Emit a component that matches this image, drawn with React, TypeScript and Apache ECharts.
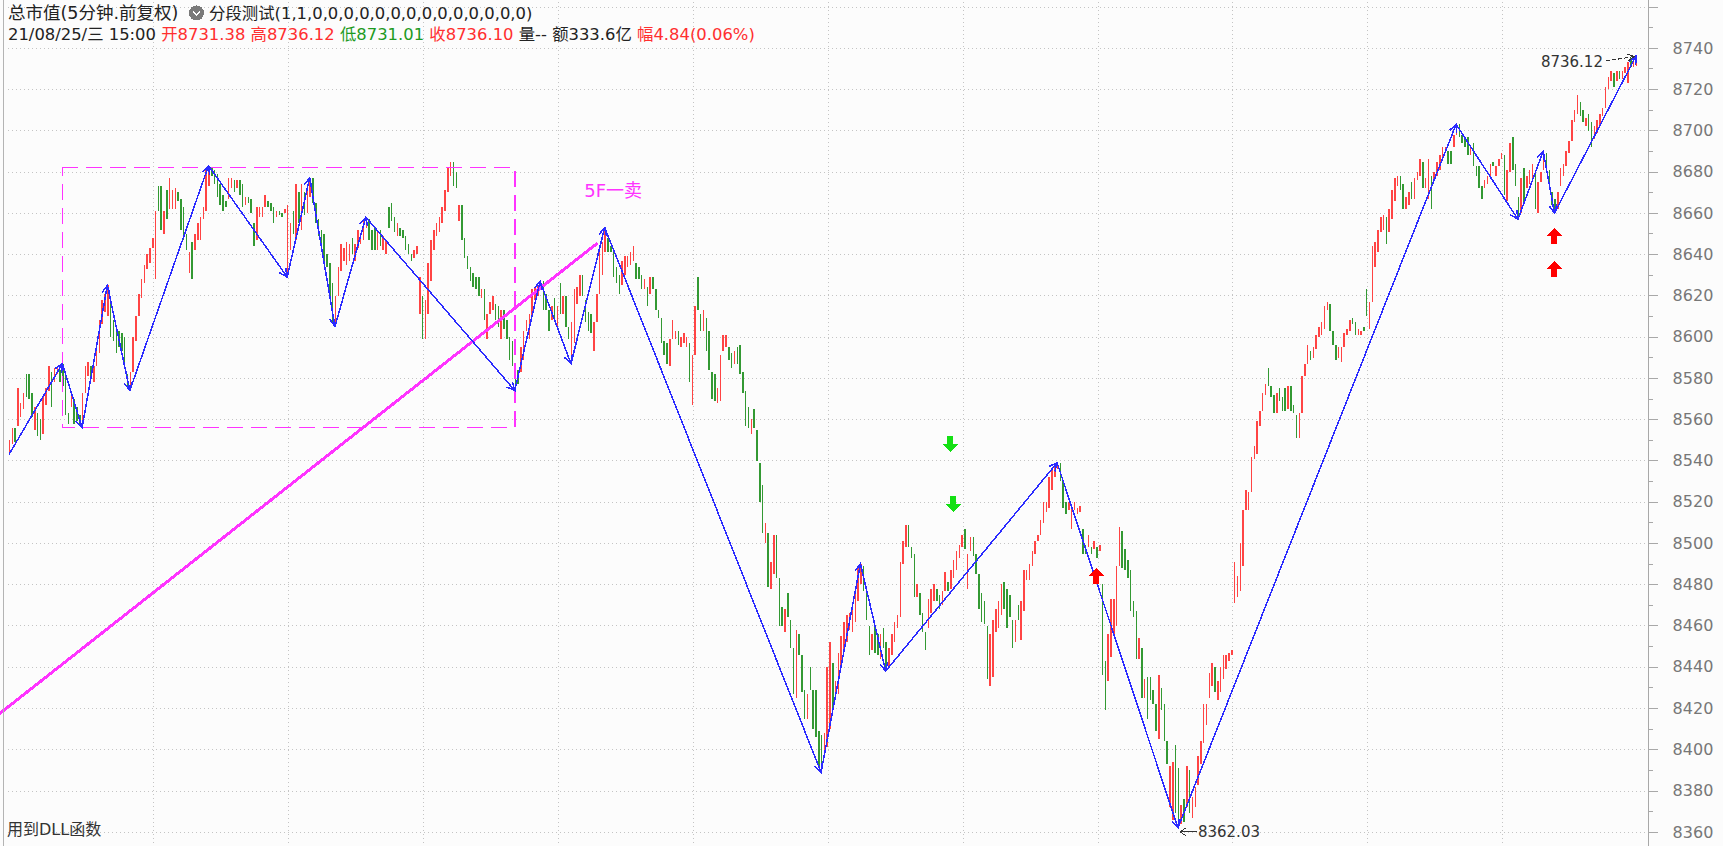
import React, { useEffect, useRef } from 'react';
import * as echarts from 'echarts';

// ---- bars: [open, close] per 5-minute bar ----
const barsBox: number[][] = [
  [8543,8550],[8548,8556],[8556,8549],[8557,8575],[8561,8568],[8565,8573],[8582,8571],[8582,8570],[8573,8561],[8555,8566],
  [8563,8552],[8560,8550],[8553,8571],[8567,8575],[8574,8586],[8583,8566],[8578,8585],[8582,8586],[8584,8578],[8587,8576],
  [8582,8562],[8563,8558],[8566,8573],[8570,8558],[8566,8559],[8562,8558],[8556,8573],[8573,8586],[8581,8588],[8586,8580],
  [8578,8586],[8586,8596],[8592,8608],[8606,8618],[8612,8621],[8610,8625],[8620,8600],[8608,8598],[8604,8592],[8603,8595],
  [8602,8593],[8600,8585],[8582,8576],[8574,8583],[8583,8600],[8598,8610],[8610,8621],[8619,8628],[8626,8635],[8633,8640],
  [8636,8643],[8643,8648],[8628,8661],[8673,8661],[8673,8652],[8650,8661],[8671,8657],[8662,8677],[8662,8671],[8662,8672],
  [8670,8666],[8667,8652],[8663,8647],[8650,8642],[8631,8641],[8646,8628],[8642,8650],[8647,8655],[8647,8658],[8657,8663],
  [8661,8681],[8673,8683],[8682,8678],[8681,8674],[8679,8668],[8674,8664],[8669,8661],[8666,8663],[8667,8677],[8672,8677],
  [8676,8670],[8672,8676],[8676,8669],[8674,8663],[8664,8668],[8668,8665],[8667,8660],[8655,8644],[8647,8663],[8658,8663],
  [8658,8663],[8663,8669],[8666,8663],[8665,8661],[8663,8655],[8658,8661],[8661,8659],[8660,8658],[8660,8662],[8629,8664],
  [8642,8655],[8661,8650],[8647,8674],[8670,8655],[8652,8674],[8670,8659],[8660,8672],[8668,8677],[8677,8665],[8665,8655],
  [8657,8649],[8652,8645],[8650,8636],[8640,8634],[8636,8620],[8626,8607],[8605,8620],[8620,8634],[8632,8645],[8637,8643],
  [8635,8646],[8637,8645],[8648,8640],[8637,8645],[8643,8652],[8645,8650],[8647,8656],[8653,8658],[8657,8647],[8652,8642],
  [8653,8642],[8642,8652],[8652,8644],[8642,8649],[8640,8647],[8663,8653],[8665,8656],[8658,8651],[8649,8655],[8653,8649],
  [8652,8648],[8649,8642],[8645,8640],[8640,8637],[8638,8642],[8640,8644],[8611,8629],[8620,8599],[8599,8618],[8611,8636],
  [8627,8647],[8642,8652],[8649,8655],[8651,8658],[8655,8663],[8661,8671],[8670,8682],[8678,8685],[8685,8673],[8680,8672],
  [8656,8664],[8664,8647],[8648,8638],[8639,8633],[8634,8627],[8631,8624],[8629,8623],[8629,8620],[8619,8623],[8623,8608],
  [8599,8611],[8611,8617],[8613,8620],[8616,8608],[8615,8605],[8599,8613],[8613,8604],[8608,8599],[8600,8589],[8598,8586],
  [8586,8574],
];
const barsFall: number[][] = [
  [8584,8577],[8583,8595],[8589,8603],[8603,8608],[8599,8611],[8610,8623],[8618,8624],[8620,8625],[8624,8627],[8627,8613],
  [8621,8613],[8613,8603],[8608,8615],[8619,8608],[8605,8615],[8626,8611],[8611,8620],[8620,8605],[8605,8599],[8587,8607],
  [8597,8623],[8616,8624],[8620,8630],[8630,8620],[8618,8607],[8612,8603],[8611,8602],[8593,8607],[8607,8621],[8621,8641],
  [8630,8646],[8641,8653],
  [8648,8641],[8644,8641],[8641,8629],[8634,8626],[8630,8621],[8625,8637],[8630,8639],[8634,8639],[8635,8641],[8637,8644],
  [8636,8628],[8634,8628],[8630,8623],[8623,8628],[8624,8615],[8621,8629],[8629,8623],[8623,8613],[8613,8609],[8609,8597],
  [8598,8591],[8597,8587],[8586,8599],[8599,8608],[8599,8603],[8603,8596],[8595,8600],[8597,8602],[8595,8600],[8597,8578],
  [8567,8591],[8591,8615],[8629,8613],[8611,8603],[8603,8613],[8609,8593],[8603,8584],[8583,8570],[8582,8569],[8568,8575],
  [8569,8591],[8593,8601],[8595,8601],[8595,8589],[8592,8585],[8587,8593],[8595,8587],[8596,8582],[8583,8573],[8574,8557],
  [8566,8556],[8553,8560],[8565,8556],[8555,8540],[8539,8520],[8528,8505],[8500,8510],[8505,8479],[8478,8491],[8485,8504],
  [8504,8483],[8483,8460],[8469,8460],[8457,8468],[8476,8464],[8463,8449],[8449,8427],[8425,8458],[8456,8446],[8446,8428],
  [8429,8415],[8415,8427],[8440,8429],[8429,8410],[8429,8406],[8409,8391],[8407,8389],
];
const barsMid: number[][] = [
  [8399,8408],[8401,8440],[8410,8452],[8442,8420],[8424,8433],[8427,8447],[8441,8455],[8448,8462],[8452,8465],[8458,8466],
  [8457,8470],[8462,8479],[8472,8488],[8480,8490],[8489,8477],[8478,8463],[8460,8446],[8448,8456],[8460,8447],[8456,8446],
  [8444,8456],[8459,8449],[8452,8438],
  [8440,8449],[8446,8456],[8452,8462],[8459,8465],[8464,8491],[8490,8501],[8498,8509],[8509,8498],[8498,8493],[8495,8474],
  [8474,8480],[8476,8465],[8466,8457],[8457,8448],[8459,8473],[8466,8478],[8472,8480],[8478,8472],[8475,8468],[8470,8477],
  [8477,8486],[8481,8477],[8478,8487],[8483,8492],[8487,8496],[8493,8499],[8498,8504],[8507,8497],[8478,8495],[8496,8503],
  [8503,8494],[8495,8485],[8485,8468],[8476,8462],[8472,8461],[8460,8434],[8431,8456],[8435,8463],[8457,8468],[8459,8472],
  [8465,8480],[8481,8468],[8478,8459],[8475,8464],[8463,8449],[8452,8463],[8470,8463],[8453,8472],[8467,8487],[8482,8487],
  [8482,8490],[8489,8496],[8495,8501],[8501,8504],[8504,8511],[8510,8520],[8515,8520],[8517,8532],[8526,8536],[8532,8538],
  [8536,8539],
  [8539,8530],[8530,8517],[8520,8514],[8516,8520],[8507,8519],[8516,8520],[8514,8517],[8515,8518],[8507,8495],[8499,8495],
  [8498,8504],[8498,8495],
  [8497,8501],[8498,8493],[8496,8499],[8480,8436],[8443,8419],[8433,8456],[8445,8473],[8456,8473],[8460,8489],[8489,8508],
  [8506,8488],[8497,8487],[8492,8483],[8487,8467],[8472,8464],[8467,8444],[8444,8454],[8449,8425],[8425,8434],[8435,8415],
  [8435,8424],[8429,8422],[8422,8409],[8405,8436],[8430,8419],[8422,8404],[8404,8393],[8372,8392],[8366,8394],[8402,8369],
  [8391,8362.03],
];
const barsRise: number[][] = [
  [8364,8373],[8376,8365],[8372,8392],[8390,8369],[8367,8377],[8372,8382],[8383,8397],[8393,8404],[8403,8422],[8412,8422],
  [8425,8437],[8431,8442],[8440,8428],[8424,8433],[8428,8440],[8434,8446],[8439,8446],[8443,8447],[8446,8448],[8471,8491],
  [8474,8484],[8477,8500],[8489,8516],[8516,8526],[8516,8525],
  [8525,8542],[8541,8547],[8543,8559],[8557,8564],[8564,8573],[8572,8577],[8585,8576],[8576,8571],[8572,8563],[8563,8573],
  [8575,8569],[8571,8564],[8575,8564],[8565,8576],[8576,8564],[8567,8563],[8562,8551],[8551,8563],[8563,8581],[8581,8587],
  [8587,8596],[8593,8589],[8590,8595],[8594,8601],[8600,8605],[8601,8607],[8604,8615],[8613,8617],[8616,8603],
  [8603,8596],[8596,8589],[8590,8595],[8588,8595],[8595,8602],[8601,8604],[8603,8608],[8609,8606],[8607,8601],[8601,8604],
  [8601,8603],[8605,8603],[8623,8610],[8604,8617],[8617,8644],[8634,8646],[8641,8652],[8651,8658],[8652,8659],[8658,8645],
  [8651,8662],[8657,8671],[8666,8677],[8673,8678],[8678,8671],[8674,8662],[8662,8668],[8664,8670],[8675,8667],[8667,8677],
  [8676,8680],[8678,8686],[8685,8672],[8672,8677],[8667,8686],[8678,8662],[8676,8680],[8678,8685],[8681,8688],[8686,8692],
  [8689,8692],[8690,8684],[8690,8684],[8692,8698],[8698,8703],
  [8703,8697],[8698,8694],[8697,8692],[8697,8688],[8688,8692],[8694,8683],[8683,8678],[8683,8672],[8673,8667],[8672,8676],
  [8674,8678],[8677,8684],[8685,8683],[8678,8683],[8683,8686],[8686,8689],
  [8688,8669],[8666,8681],[8680,8694],[8697,8681],[8684,8673],[8668,8657],
  [8660,8677],[8682,8665],[8672,8678],[8674,8681],[8677,8684],[8681,8662],[8660,8675],[8675,8680],[8681,8690],
  [8689,8681],[8681,8673],[8670,8664],[8667,8660],
  [8662,8670],[8673,8682],[8678,8684],[8683,8690],[8689,8695],[8695,8705],[8704,8710],[8708,8717],[8714,8707],[8710,8704],
  [8702,8706],[8708,8700],[8704,8692],[8696,8702],[8699,8705],[8702,8708],[8707,8711],[8711,8721],[8720,8726],[8724,8729],
  [8728,8721],[8724,8729],[8729,8725],[8725,8729],[8728,8731],[8723,8733],[8735,8731],[8731,8735],[8731.38,8736.1],
];

// zigzag pivots [barIndex, price]
const pivots: number[][] = [
  [0,8543],[19,8587],[26,8556],[35,8625],[43,8574],[71,8683],[99,8629],[107,8677],[116,8605],[127,8658],
  [180,8574],[189,8627],[200,8587],[212,8653],[289,8389],[303,8490],[312,8438],[373,8539],[416,8362.03],
  [515,8703],[537,8657],[546,8690],[550,8660],[579,8736.12],
];
const boxRange = [19, 8682, 180, 8556];           // [fromIdx, top, toIdx, bottom]
const pinkLine = [0, 8421, 209, 8645];            // [idx1, p1, idx2, p2]
const pinkText = { idx: 215, price: 8671, text: '5F一卖' };
const sellSignals: number[][] = [[335, 8548], [336, 8519]];
const buySignals: number[][] = [[387, 8484], [550, 8649], [550, 8633]];
const extremes: number[][] = [[579, 8736.12], [416, 8362.03]];
const dayStarts = [52, 100, 148, 196, 244, 292, 340, 388, 436, 484, 532];
const yMin = 8340, yMax = 8780, yStep = 20;
const yLabelMin = 8360, yLabelMax = 8740;
const categoryCount = 584;

const headerTitle = '总市值(5分钟.前复权)';
const headerFormula = '分段测试(1,1,0,0,0,0,0,0,0,0,0,0,0,0,0,0)';
const headerParts: [string, string][] = [
  ['k', '21/08/25/三 15:00 '], ['r', '开8731.38 '], ['r', '高8736.12 '], ['g', '低8731.01 '],
  ['r', '收8736.10 '], ['k', '量-- '], ['k', '额333.6亿 '], ['r', '幅4.84(0.06%)'],
];
const footerText = '用到DLL函数';

const RED = '#ff4444';
const GREEN = '#339933';
const BLUE = '#2b2bff';
const PINK = '#ff33ff';
const FONT = '"DejaVu Sans", "Noto Sans CJK SC", sans-serif';

export default function App() {
  const ref = useRef<HTMLDivElement>(null);
  useEffect(() => {
    document.body.style.margin = '0';
    const chart = echarts.init(ref.current!, null, { renderer: 'svg' });
    const bars = [...barsBox, ...barsFall, ...barsMid, ...barsRise];
    const candle = bars.map(([o, c]) => [o, c, Math.min(o, c), Math.max(o, c)]);
    const categories = Array.from({ length: categoryCount }, (_, i) => String(i));
    const segments = pivots.slice(1).map((p, k) => [pivots[k][0], pivots[k][1], p[0], p[1]]);

    const upArrow = 'path://M8 0 L16 8 L11 8 L11 16 L5 16 L5 8 L0 8 Z';
    const downArrow = 'path://M5 0 L11 0 L11 8 L16 8 L8 16 L0 8 L5 8 Z';

    const option: any = {
      animation: false,
      backgroundColor: '#fcfcfc',
      grid: { left: 7.6, right: 74.4, top: -34.5, height: 907.8, outerBoundsMode: 'none' },
      xAxis: {
        type: 'category', data: categories, boundaryGap: true,
        axisLine: { show: false }, axisTick: { show: false }, axisLabel: { show: false },
        splitLine: {
          show: true,
          interval: (idx: number) => dayStarts.includes(idx),
          lineStyle: { color: '#c4c4c4', type: [1, 3], width: 1 },
        },
      },
      yAxis: {
        type: 'value', position: 'right', min: yMin, max: yMax, interval: yStep,
        axisLine: { show: true, lineStyle: { color: '#a8a8a8', width: 1 } },
        axisTick: { show: true, length: 9, lineStyle: { color: '#a8a8a8' } },
        minorTick: { show: true, splitNumber: 2, length: 4, lineStyle: { color: '#a8a8a8' } },
        axisLabel: {
          color: '#777', fontSize: 16, fontFamily: FONT, margin: 24,
          formatter: (v: number) => (v < yLabelMin || v > yLabelMax ? '' : String(v)),
        },
        splitLine: { show: true, lineStyle: { color: '#c4c4c4', type: [1, 3], width: 1 } },
      },
      series: [
        {
          type: 'candlestick', data: candle, barWidth: 2, z: 2,
          itemStyle: { color: RED, color0: GREEN, borderColor: RED, borderColor0: GREEN, borderWidth: 0 },
        },
        {
          type: 'custom', z: 3, data: [boxRange],
          renderItem: (_p: any, api: any) => {
            const a = api.coord([api.value(0), api.value(1)]);
            const b = api.coord([api.value(2), api.value(3)]);
            return {
              type: 'rect',
              shape: { x: a[0], y: a[1], width: b[0] - a[0], height: b[1] - a[1] },
              style: { fill: 'none', stroke: PINK, lineWidth: 1.6, lineDash: [16, 8] },
            };
          },
        },
        {
          type: 'custom', z: 4, data: [pinkLine],
          renderItem: (_p: any, api: any) => {
            const a = api.coord([api.value(0), api.value(1)]);
            const b = api.coord([api.value(2), api.value(3)]);
            const k = (b[1] - a[1]) / (b[0] - a[0]);
            const y0 = a[1] - k * a[0];
            return {
              type: 'line',
              shape: { x1: 0, y1: y0, x2: b[0], y2: b[1] },
              style: { stroke: PINK, lineWidth: 3, lineCap: 'round' },
            };
          },
        },
        {
          type: 'custom', z: 4, data: [[pinkText.idx, pinkText.price]],
          renderItem: (_p: any, api: any) => {
            const a = api.coord([api.value(0), api.value(1)]);
            return {
              type: 'text', x: a[0], y: a[1],
              style: { text: pinkText.text, fill: PINK, fontSize: 18, fontFamily: FONT, align: 'center', verticalAlign: 'middle' },
            };
          },
        },
        {
          type: 'custom', z: 5, data: segments,
          renderItem: (_p: any, api: any) => {
            const a = api.coord([api.value(0), api.value(1)]);
            const b = api.coord([api.value(2), api.value(3)]);
            const ang = Math.atan2(b[1] - a[1], b[0] - a[0]);
            const L = 9, w = 0.45;
            const w1 = [b[0] - L * Math.cos(ang - w), b[1] - L * Math.sin(ang - w)];
            const w2 = [b[0] - L * Math.cos(ang + w), b[1] - L * Math.sin(ang + w)];
            return {
              type: 'group',
              children: [
                { type: 'line', shape: { x1: a[0], y1: a[1], x2: b[0], y2: b[1] }, style: { stroke: BLUE, lineWidth: 1.5 } },
                { type: 'polyline', shape: { points: [w1, b, w2] }, style: { stroke: BLUE, lineWidth: 1.5, fill: 'none' } },
              ],
            };
          },
        },
        {
          type: 'custom', z: 6, data: extremes,
          renderItem: (params: any, api: any) => {
            const v = api.value(1);
            const p = api.coord([api.value(0), v]);
            const label = v.toFixed(2);
            if (params.dataIndex === 0) {
              const s = [p[0] - 30, p[1] + 5];
              const e = [p[0] - 2, p[1] + 0.5];
              const ang = Math.atan2(e[1] - s[1], e[0] - s[0]);
              const h1 = [e[0] - 7 * Math.cos(ang - 0.5), e[1] - 7 * Math.sin(ang - 0.5)];
              const h2 = [e[0] - 7 * Math.cos(ang + 0.5), e[1] - 7 * Math.sin(ang + 0.5)];
              return {
                type: 'group',
                children: [
                  { type: 'text', x: p[0] - 33, y: p[1] + 6, style: { text: label, fill: '#333', fontSize: 15, fontFamily: FONT, align: 'right', verticalAlign: 'middle' } },
                  { type: 'line', shape: { x1: s[0], y1: s[1], x2: e[0], y2: e[1] }, style: { stroke: '#333', lineWidth: 1, lineDash: [4, 2] } },
                  { type: 'polyline', shape: { points: [h1, e, h2] }, style: { stroke: '#333', lineWidth: 1, fill: 'none' } },
                ],
              };
            }
            const y = p[1] + 4;
            return {
              type: 'group',
              children: [
                { type: 'line', shape: { x1: p[0] + 2, y1: y, x2: p[0] + 19, y2: y }, style: { stroke: '#333', lineWidth: 1 } },
                { type: 'polyline', shape: { points: [[p[0] + 8, y - 4], [p[0] + 2, y], [p[0] + 8, y + 4]] }, style: { stroke: '#333', lineWidth: 1, fill: 'none' } },
                { type: 'text', x: p[0] + 20, y: y, style: { text: label, fill: '#333', fontSize: 15, fontFamily: FONT, align: 'left', verticalAlign: 'middle' } },
              ],
            };
          },
        },
        {
          type: 'scatter', z: 7, data: sellSignals, symbol: downArrow, symbolSize: [16, 16],
          itemStyle: { color: '#14e014', opacity: 1 },
        },
        {
          type: 'scatter', z: 7, data: buySignals, symbol: upArrow, symbolSize: [16, 16],
          itemStyle: { color: '#ff0000', opacity: 1 },
        },
      ],
      graphic: [
        { type: 'line', shape: { x1: 3.5, y1: 0, x2: 3.5, y2: 846 }, style: { stroke: '#b4b4b4', lineWidth: 1 }, z: 10 },
        { type: 'text', x: 8, y: 13, style: { text: headerTitle, fill: '#222', fontSize: 17.5, fontFamily: FONT, verticalAlign: 'middle' }, z: 10 },
        { type: 'circle', shape: { cx: 196.5, cy: 13, r: 7.5 }, style: { fill: '#7a7a7a' }, z: 10 },
        { type: 'polyline', shape: { points: [[193, 11.3], [196.5, 14.8], [200, 11.3]] }, style: { stroke: '#fff', lineWidth: 1.8, fill: 'none' }, z: 11 },
        { type: 'text', x: 209, y: 13, style: { text: headerFormula, fill: '#222', fontSize: 16.4, fontFamily: FONT, verticalAlign: 'middle' }, z: 10 },
        {
          type: 'text', x: 8, y: 34, z: 10,
          style: {
            text: headerParts.map(([s, t]) => `{${s}|${t}}`).join(''),
            verticalAlign: 'middle', fontSize: 16.4, fontFamily: FONT,
            rich: {
              k: { fill: '#222', fontSize: 16.4, fontFamily: FONT },
              r: { fill: '#ff2f2f', fontSize: 16.4, fontFamily: FONT },
              g: { fill: '#1f9a1f', fontSize: 16.4, fontFamily: FONT },
            },
          },
        },
        { type: 'text', x: 7, y: 829, style: { text: footerText, fill: '#333', fontSize: 16, fontFamily: FONT, verticalAlign: 'middle' }, z: 10 },
      ],
    };
    chart.setOption(option);
    const svg = ref.current!.querySelector('svg');
    if (svg) svg.setAttribute('shape-rendering', 'crispEdges');
    return () => chart.dispose();
  }, []);
  return <div ref={ref} style={{ width: 1723, height: 846 }} />;
}
